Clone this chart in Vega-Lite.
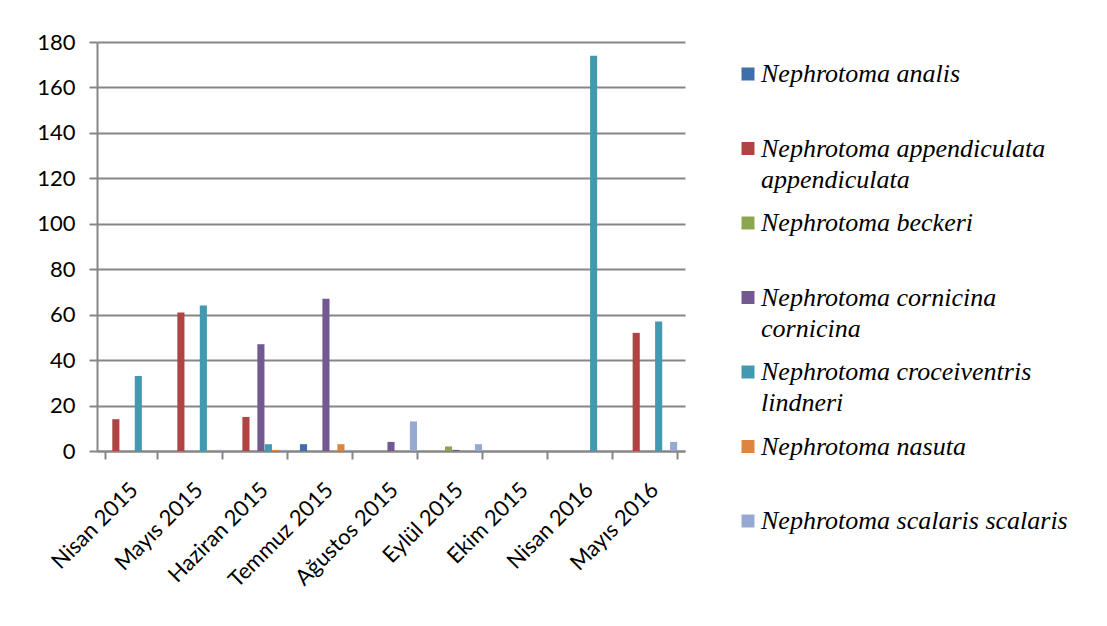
{
  "$schema": "https://vega.github.io/schema/vega-lite/v6.json",
  "width": 588,
  "height": 409,
  "autosize": {"type": "none"},
  "padding": {"left": 97, "top": 42, "right": 422, "bottom": 175},
  "background": "white",
  "config": {"view": {"stroke": null}, "font": "Lato"},
  "data": {
    "values": [
      {"month": "Nisan 2015", "species": "Nephrotoma appendiculata appendiculata", "count": 14},
      {"month": "Nisan 2015", "species": "Nephrotoma croceiventris lindneri", "count": 33},
      {"month": "Mayıs 2015", "species": "Nephrotoma appendiculata appendiculata", "count": 61},
      {"month": "Mayıs 2015", "species": "Nephrotoma croceiventris lindneri", "count": 64},
      {"month": "Mayıs 2015", "species": "Nephrotoma scalaris scalaris", "count": 0.5},
      {"month": "Haziran 2015", "species": "Nephrotoma appendiculata appendiculata", "count": 15},
      {"month": "Haziran 2015", "species": "Nephrotoma cornicina cornicina", "count": 47},
      {"month": "Haziran 2015", "species": "Nephrotoma croceiventris lindneri", "count": 3},
      {"month": "Haziran 2015", "species": "Nephrotoma nasuta", "count": 0.5},
      {"month": "Haziran 2015", "species": "Nephrotoma scalaris scalaris", "count": 0.5},
      {"month": "Temmuz 2015", "species": "Nephrotoma analis", "count": 3},
      {"month": "Temmuz 2015", "species": "Nephrotoma cornicina cornicina", "count": 67},
      {"month": "Temmuz 2015", "species": "Nephrotoma nasuta", "count": 3},
      {"month": "Temmuz 2015", "species": "Nephrotoma scalaris scalaris", "count": 0.5},
      {"month": "Ağustos 2015", "species": "Nephrotoma cornicina cornicina", "count": 4},
      {"month": "Ağustos 2015", "species": "Nephrotoma scalaris scalaris", "count": 13},
      {"month": "Eylül 2015", "species": "Nephrotoma beckeri", "count": 2},
      {"month": "Eylül 2015", "species": "Nephrotoma cornicina cornicina", "count": 0.5},
      {"month": "Eylül 2015", "species": "Nephrotoma scalaris scalaris", "count": 3},
      {"month": "Ekim 2015", "species": "Nephrotoma analis", "count": 0},
      {"month": "Nisan 2016", "species": "Nephrotoma croceiventris lindneri", "count": 174},
      {"month": "Mayıs 2016", "species": "Nephrotoma appendiculata appendiculata", "count": 52},
      {"month": "Mayıs 2016", "species": "Nephrotoma croceiventris lindneri", "count": 57},
      {"month": "Mayıs 2016", "species": "Nephrotoma scalaris scalaris", "count": 4}
    ]
  },
  "mark": {"type": "bar"},
  "encoding": {
    "x": {
      "field": "month",
      "type": "nominal",
      "sort": ["Nisan 2015", "Mayıs 2015", "Haziran 2015", "Temmuz 2015", "Ağustos 2015", "Eylül 2015", "Ekim 2015", "Nisan 2016", "Mayıs 2016"],
      "scale": {"paddingInner": 0.2, "paddingOuter": 0.12},
      "axis": {
        "title": null,
        "labelAngle": -45,
        "labelFontSize": 22,
        "labelColor": "#000000",
        "labelFont": "Lato",
        "labelOffset": -4,
        "domainColor": "#868686",
        "domainWidth": 2,
        "tickColor": "#868686",
        "tickWidth": 2,
        "tickSize": 8,
        "tickBand": "extent",
        "labelPadding": 20
      }
    },
    "xOffset": {
      "field": "species",
      "type": "nominal",
      "sort": ["Nephrotoma analis", "Nephrotoma appendiculata appendiculata", "Nephrotoma beckeri", "Nephrotoma cornicina cornicina", "Nephrotoma croceiventris lindneri", "Nephrotoma nasuta", "Nephrotoma scalaris scalaris"],
      "scale": {"domain": ["Nephrotoma analis", "Nephrotoma appendiculata appendiculata", "Nephrotoma beckeri", "Nephrotoma cornicina cornicina", "Nephrotoma croceiventris lindneri", "Nephrotoma nasuta", "Nephrotoma scalaris scalaris"], "paddingInner": 0.05}
    },
    "y": {
      "field": "count",
      "type": "quantitative",
      "scale": {"domain": [0, 180], "nice": false},
      "axis": {
        "title": null,
        "values": [0, 20, 40, 60, 80, 100, 120, 140, 160, 180],
        "labelFontSize": 22,
        "labelColor": "#000000",
        "labelFont": "Lato",
        "gridColor": "#868686",
        "gridWidth": 2,
        "domainColor": "#868686",
        "domainWidth": 2,
        "tickColor": "#868686",
        "tickWidth": 2,
        "tickSize": 8,
        "labelPadding": 14
      }
    },
    "color": {
      "field": "species",
      "type": "nominal",
      "scale": {
        "domain": ["Nephrotoma analis", "Nephrotoma appendiculata appendiculata", "Nephrotoma beckeri", "Nephrotoma cornicina cornicina", "Nephrotoma croceiventris lindneri", "Nephrotoma nasuta", "Nephrotoma scalaris scalaris"],
        "range": ["#3F6FAA", "#AE4542", "#8AA74E", "#725A91", "#4299B0", "#DC853E", "#96A9D0"]
      },
      "legend": {
        "title": null,
        "orient": "none",
        "legendX": 638,
        "legendY": 19,
        "padding": 0,
        "symbolType": "square",
        "symbolSize": 169,
        "symbolStrokeWidth": 0,
        "symbolOpacity": 1,
        "labelFont": "Liberation Serif",
        "labelFontStyle": "italic",
        "labelFontSize": 26,
        "labelColor": "#000000",
        "labelLimit": 400,
        "labelOffset": 0,
        "labelBaseline": "middle",
        "rowPadding": 17.5,
        "labelExpr": "datum.label == 'Nephrotoma appendiculata appendiculata' ? ['Nephrotoma appendiculata', 'appendiculata'] : datum.label == 'Nephrotoma cornicina cornicina' ? ['Nephrotoma cornicina', 'cornicina'] : datum.label == 'Nephrotoma croceiventris lindneri' ? ['Nephrotoma croceiventris', 'lindneri'] : [datum.label, '']",
        "encode": {
          "labels": {"update": {"lineHeight": {"value": 31}, "fontSize": {"value": 26}}}
        }
      }
    }
  }
}
